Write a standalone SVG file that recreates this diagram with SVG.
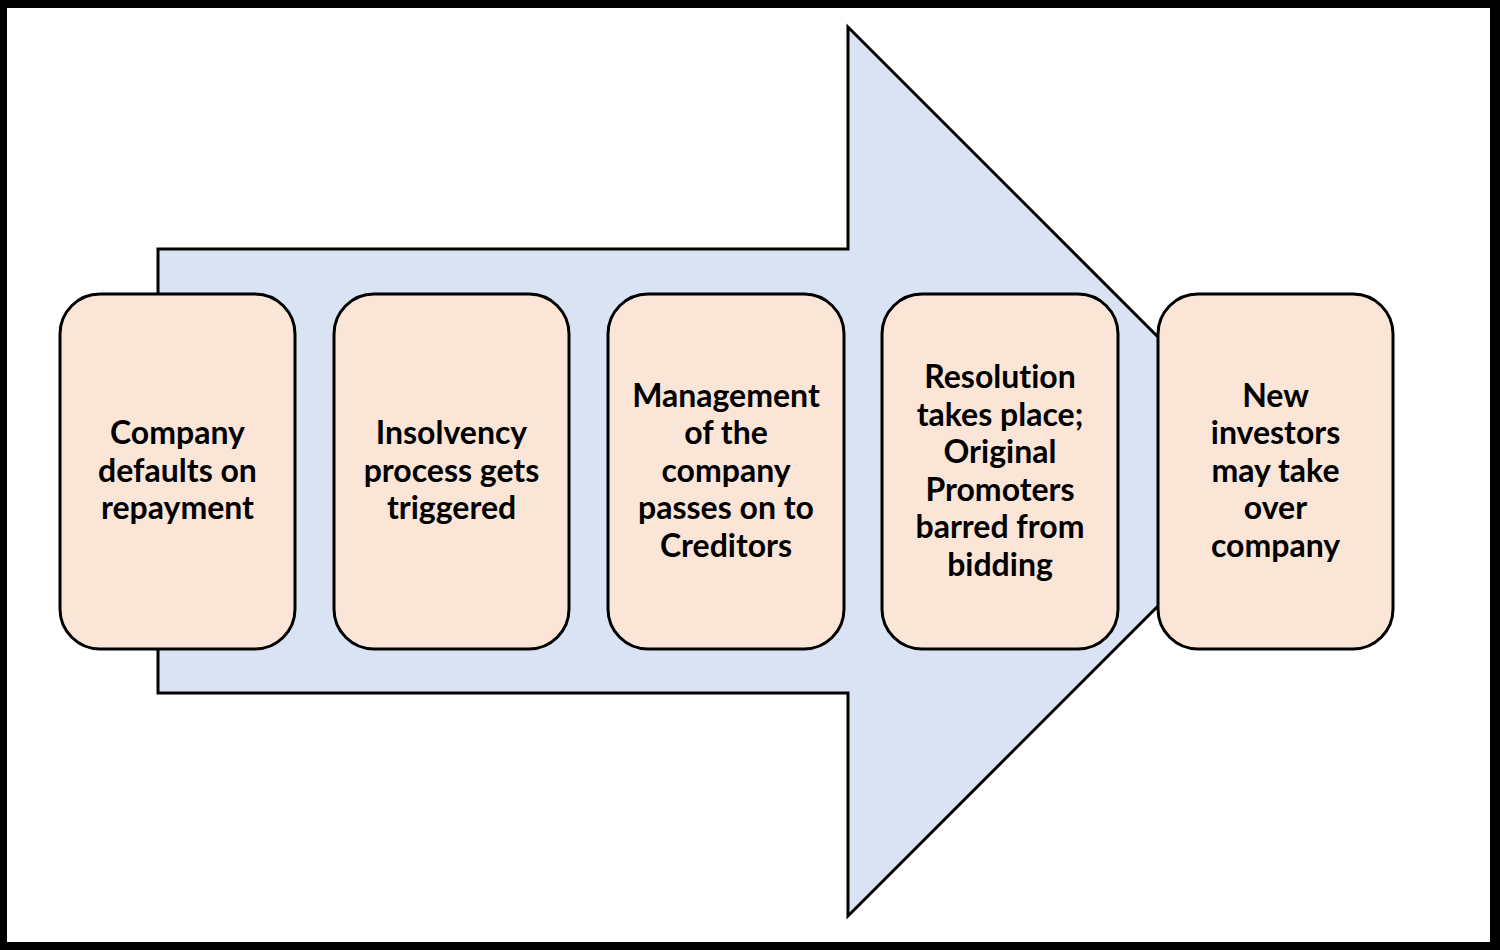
<svg xmlns="http://www.w3.org/2000/svg" width="1500" height="950" viewBox="0 0 1500 950">
<style>
.box{fill:#fbe5d6;stroke:#000;stroke-width:3}
.arrow{fill:#dae3f3;stroke:#000;stroke-width:3;stroke-linejoin:miter}
.t{font-family:Lato,"Open Sans","Liberation Sans",sans-serif;font-weight:bold;font-size:32px;fill:#000;text-anchor:middle;font-variant-ligatures:none}
</style>
<rect x="0" y="0" width="1500" height="950" fill="#000"/>
<rect x="7" y="8" width="1483" height="934" fill="#fff"/>
<g id="connectors">
<path class="arrow" d="M158,249 L848,249 L848,27 L1292.5,471.5 L848,916 L848,693 L158,693 Z"/>
</g>
<g id="node1">
<rect class="box" x="60" y="294" width="235" height="355" rx="40" ry="40"/>
<text class="t" x="177.5" y="444">Company</text>
<text class="t" x="177.5" y="482">defaults on</text>
<text class="t" x="177.5" y="519">repayment</text>
</g>
<g id="node2">
<rect class="box" x="334" y="294" width="235" height="355" rx="40" ry="40"/>
<text class="t" x="451.5" y="444">Insolvency</text>
<text class="t" x="451.5" y="482">process gets</text>
<text class="t" x="451.5" y="519">triggered</text>
</g>
<g id="node3">
<rect class="box" x="608" y="294" width="236" height="355" rx="40" ry="40"/>
<text class="t" x="726" y="406.5">Management</text>
<text class="t" x="726" y="444">of the</text>
<text class="t" x="726" y="481.5">company</text>
<text class="t" x="726" y="519">passes on to</text>
<text class="t" x="726" y="556.5">Creditors</text>
</g>
<g id="node4">
<rect class="box" x="882" y="294" width="236" height="355" rx="40" ry="40"/>
<text class="t" x="1000" y="388">Resolution</text>
<text class="t" x="1000" y="425.5">takes place;</text>
<text class="t" x="1000" y="463">Original</text>
<text class="t" x="1000" y="500.5">Promoters</text>
<text class="t" x="1000" y="538">barred from</text>
<text class="t" x="1000" y="575.5">bidding</text>
</g>
<g id="node5">
<rect class="box" x="1158" y="294" width="235" height="355" rx="40" ry="40"/>
<text class="t" x="1275.5" y="406.5">New</text>
<text class="t" x="1275.5" y="444">investors</text>
<text class="t" x="1275.5" y="481.5">may take</text>
<text class="t" x="1275.5" y="519">over</text>
<text class="t" x="1275.5" y="556.5">company</text>
</g>
</svg>
